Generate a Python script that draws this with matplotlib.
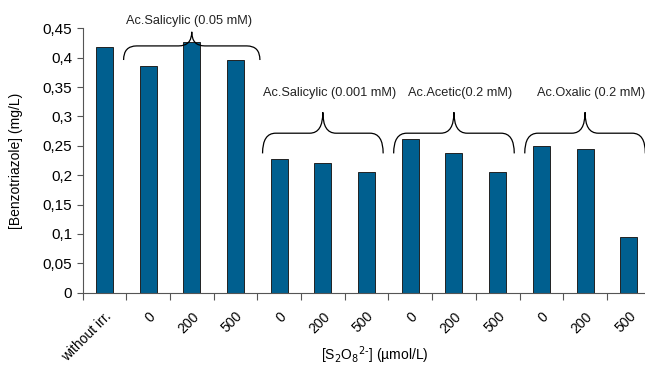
import matplotlib.pyplot as plt
import numpy as np
from matplotlib.path import Path
from matplotlib.patches import PathPatch
from matplotlib.ticker import FuncFormatter

plt.rcParams["font.family"] = ["Liberation Sans", "DejaVu Sans"]

categories = ["without irr.", "0", "200", "500", "0", "200", "500",
              "0", "200", "500", "0", "200", "500"]
values = [0.418, 0.385, 0.426, 0.396, 0.228, 0.221, 0.205,
          0.262, 0.238, 0.206, 0.250, 0.245, 0.095]
group_labels = ["Ac.Salicylic (0.05 mM)", "Ac.Salicylic (0.001 mM)",
                "Ac.Acetic(0.2 mM)", "Ac.Oxalic (0.2 mM)"]
group_centers = [2, 5, 8, 11]

BAR_COLOR = "#005f8f"


def draw_brace(ax, xc, half, y_end, y_mid, y_peak, r=0.3):
    xl, xr = xc - half, xc + half
    verts = [
        (xl, y_end), (xl, y_mid), (xl + r, y_mid),
        (xc - r, y_mid), (xc, y_mid), (xc, y_peak),
        (xc, y_mid), (xc + r, y_mid),
        (xr - r, y_mid), (xr, y_mid), (xr, y_end),
    ]
    codes = [Path.MOVETO, Path.CURVE3, Path.CURVE3,
             Path.LINETO, Path.CURVE3, Path.CURVE3,
             Path.CURVE3, Path.CURVE3,
             Path.LINETO, Path.CURVE3, Path.CURVE3]
    ax.add_patch(PathPatch(Path(verts, codes), fill=False, lw=0.9,
                           edgecolor="black", clip_on=False))


fig = plt.figure(figsize=(6.45, 3.7), dpi=100)
ax = fig.add_axes([82.5 / 645, 77.4 / 370, 568.1 / 645, 264.3 / 370])

x = np.arange(len(values))
ax.bar(x, values, width=0.39, color=BAR_COLOR, edgecolor="#222222", linewidth=0.7)

ax.set_xlim(-0.5, len(values) - 0.5)
ax.set_ylim(0, 0.45)
ax.set_yticks(np.arange(0, 0.451, 0.05))
ax.yaxis.set_major_formatter(FuncFormatter(lambda v, p: f"{v:.2f}".rstrip("0").rstrip(".").replace(".", ",")))
ax.tick_params(axis="y", labelsize=11, direction="out", length=4, width=0.8, color="#555555")

# boundary ticks (major) + category labels (minor)
ax.set_xticks(np.arange(-0.5, len(values), 1.0))
ax.set_xticklabels([])
ax.set_xticks(x, minor=True)
ax.set_xticklabels(categories, minor=True, rotation=45, ha="right",
                   rotation_mode="anchor", fontsize=10)
ax.tick_params(axis="x", which="major", direction="out", length=5, width=0.8, color="#555555")
ax.tick_params(axis="x", which="minor", length=0, pad=12)

for side in ("top", "right"):
    ax.spines[side].set_visible(False)
for side in ("left", "bottom"):
    ax.spines[side].set_color("#555555")
    ax.spines[side].set_linewidth(0.8)

ax.set_ylabel("[Benzotriazole] (mg/L)", fontsize=10)
ax.yaxis.set_label_coords(-0.105, 0.5)
fig.text(375 / 645, 1 - 355 / 370, r"[S$_2$O$_8$$^{2\text{-}}$] (µmol/L)",
         ha="center", va="center", fontsize=10)

# group braces and labels
draw_brace(ax, group_centers[0], 1.56, 0.396, 0.42, 0.444, r=0.3)
ax.text(group_centers[0] - 0.07, 0.462, group_labels[0], ha="center", va="center",
        fontsize=9.2, color="#222222", clip_on=False)
for xc, lab in zip(group_centers[1:], group_labels[1:]):
    draw_brace(ax, xc, 1.38, 0.237, 0.2714, 0.307, r=0.3)
    ax.text(xc + 0.15, 0.3394, lab, ha="center", va="center", fontsize=9.2,
            color="#222222", clip_on=False)

fig.savefig("out.png", dpi=100)
